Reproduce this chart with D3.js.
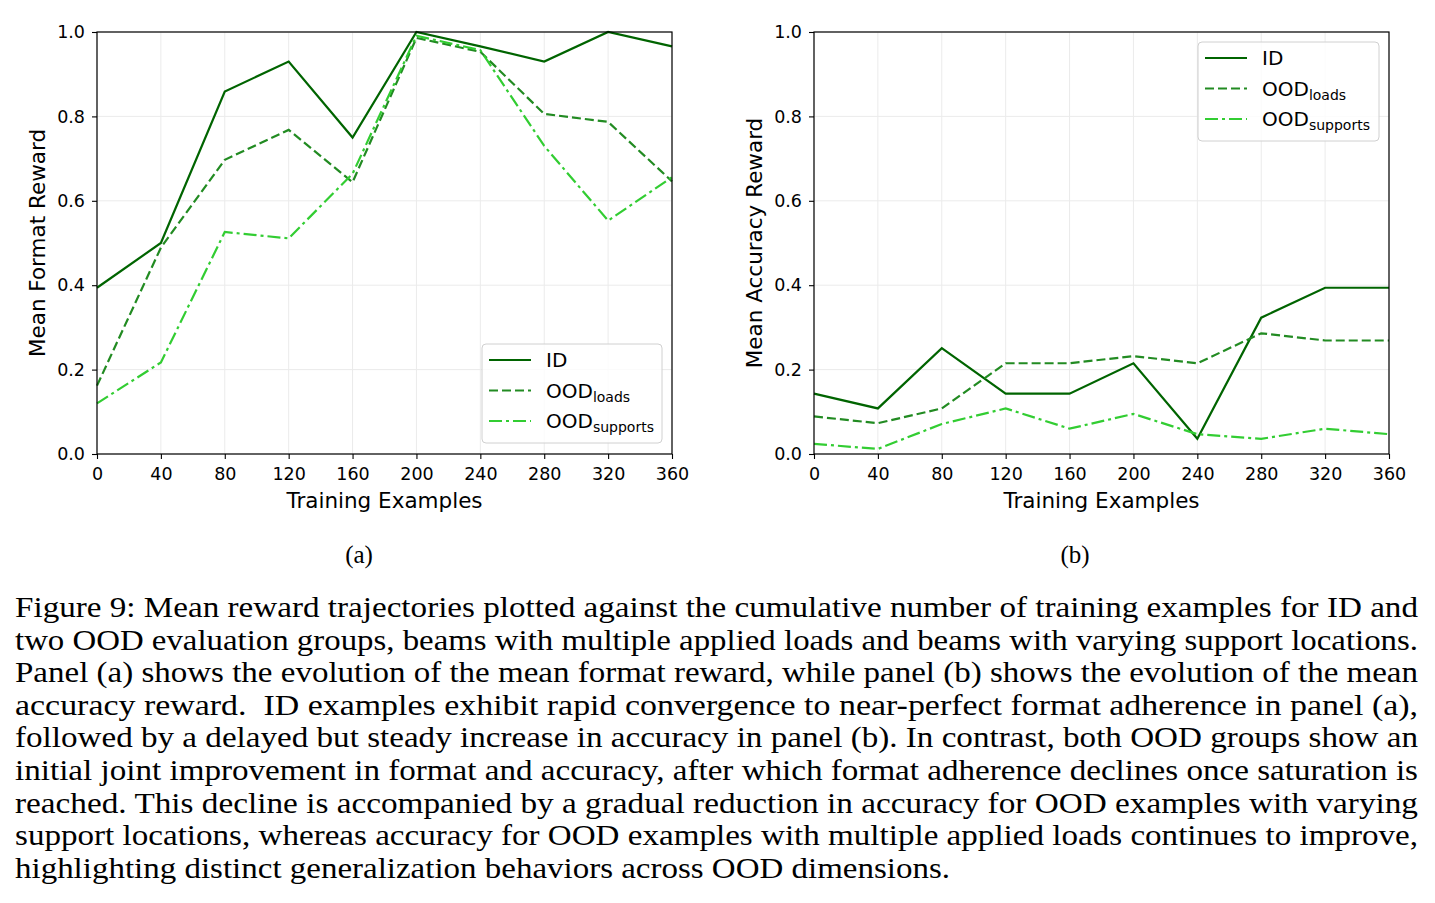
<!DOCTYPE html>
<html><head><meta charset="utf-8">
<script src="https://cdn.jsdelivr.net/npm/d3@7"></script>
<style>
html,body{margin:0;padding:0;background:#fff;}
svg{display:block;}
</style></head>
<body>
<svg id="fig" width="1435" height="903"></svg>
<script>
// ---------- data ----------
const trainingExamples = [0, 40, 80, 120, 160, 200, 240, 280, 320, 360];
const formatID        = [0.394, 0.500, 0.859, 0.930, 0.750, 1.000, 0.966, 0.930, 1.000, 0.966];
const formatOODloads  = [0.162, 0.489, 0.697, 0.768, 0.644, 0.986, 0.953, 0.806, 0.787, 0.646];
const formatOODsupports = [0.120, 0.217, 0.526, 0.511, 0.664, 0.991, 0.957, 0.730, 0.553, 0.656];
const accuracyID      = [0.143, 0.108, 0.251, 0.143, 0.143, 0.215, 0.036, 0.323, 0.394, 0.394];
const accuracyOODloads = [0.089, 0.073, 0.108, 0.215, 0.215, 0.232, 0.215, 0.286, 0.269, 0.269];
const accuracyOODsupports = [0.024, 0.012, 0.071, 0.108, 0.060, 0.095, 0.047, 0.036, 0.060, 0.047];
const xTicks = [0, 40, 80, 120, 160, 200, 240, 280, 320, 360];
const yTicks = [0.0, 0.2, 0.4, 0.6, 0.8, 1.0];
const legendLabels = [["ID", ""], ["OOD", "loads"], ["OOD", "supports"]];
const captionLines = [
 "Figure 9: Mean reward trajectories plotted against the cumulative number of training examples for ID and",
 "two OOD evaluation groups, beams with multiple applied loads and beams with varying support locations.",
 "Panel (a) shows the evolution of the mean format reward, while panel (b) shows the evolution of the mean",
 "accuracy reward.  ID examples exhibit rapid convergence to near-perfect format adherence in panel (a),",
 "followed by a delayed but steady increase in accuracy in panel (b). In contrast, both OOD groups show an",
 "initial joint improvement in format and accuracy, after which format adherence declines once saturation is",
 "reached. This decline is accompanied by a gradual reduction in accuracy for OOD examples with varying",
 "support locations, whereas accuracy for OOD examples with multiple applied loads continues to improve,",
 "highlighting distinct generalization behaviors across OOD dimensions."
];

// ---------- styles ----------
const colors = ["#006400", "#228b22", "#32cd32"];
const dashes = [null, "9,4", "13,4,3,4"];
const sansFont = "DejaVu Sans, sans-serif";
const serifFont = "Liberation Serif, serif";
const svg = d3.select("#fig");

function panel(opts) {
  const {left, right, top, bottom, series, ylabel, legend, sub} = opts;
  const g = svg.append("g");
  const x = d3.scaleLinear().domain([0, 360]).range([left, right]);
  const y = d3.scaleLinear().domain([0, 1]).range([bottom, top]);

  // grid
  g.append("g").selectAll("line").data(xTicks).join("line")
    .attr("x1", d => x(d)).attr("x2", d => x(d)).attr("y1", top).attr("y2", bottom)
    .attr("stroke", "#ebebeb").attr("stroke-width", 1);
  g.append("g").selectAll("line").data(yTicks).join("line")
    .attr("x1", left).attr("x2", right).attr("y1", d => y(d)).attr("y2", d => y(d))
    .attr("stroke", "#ebebeb").attr("stroke-width", 1);

  // lines
  const line = d3.line().x((d, i) => x(trainingExamples[i])).y(d => y(d));
  series.forEach((s, k) => {
    g.append("path").datum(s).attr("d", line)
      .attr("fill", "none").attr("stroke", colors[k]).attr("stroke-width", 2.2)
      .attr("stroke-dasharray", dashes[k]).attr("stroke-linejoin", "miter");
  });

  // frame
  g.append("rect").attr("x", left).attr("y", top).attr("width", right - left).attr("height", bottom - top)
    .attr("fill", "none").attr("stroke", "#000").attr("stroke-width", 1.2);

  // axes
  const xa = g.append("g").attr("transform", `translate(0,${bottom})`)
    .call(d3.axisBottom(x).tickValues(xTicks).tickSize(5).tickPadding(9).tickFormat(d3.format("d")));
  const ya = g.append("g").attr("transform", `translate(${left},0)`)
    .call(d3.axisLeft(y).tickValues(yTicks).tickSize(5).tickPadding(7).tickFormat(d3.format(".1f")));
  [xa, ya].forEach(a => {
    a.select(".domain").remove();
    a.selectAll("line").attr("stroke", "#000").attr("stroke-width", 1.1);
    a.selectAll("text").attr("font-family", sansFont).attr("font-size", 17.5).attr("fill", "#000");
  });

  g.append("text").attr("x", (left + right) / 2).attr("y", 508).attr("text-anchor", "middle")
    .attr("font-family", sansFont).attr("font-size", 21.5).text("Training Examples");
  g.append("text").attr("transform", `translate(${left - 52},${(top + bottom) / 2}) rotate(-90)`)
    .attr("text-anchor", "middle").attr("font-family", sansFont).attr("font-size", 21.5).text(ylabel);

  // legend
  const lg = g.append("g");
  lg.append("rect").attr("x", legend.x).attr("y", legend.y).attr("width", legend.w).attr("height", legend.h)
    .attr("rx", 4).attr("fill", "#fff").attr("fill-opacity", 0.8).attr("stroke", "#d0d0d0").attr("stroke-width", 1);
  legendLabels.forEach((lab, k) => {
    const cy = legend.y + 16 + k * 30.5;
    lg.append("line").attr("x1", legend.x + 7).attr("x2", legend.x + 49).attr("y1", cy).attr("y2", cy)
      .attr("stroke", colors[k]).attr("stroke-width", 2.2).attr("stroke-dasharray", dashes[k]);
    const t = lg.append("text").attr("x", legend.x + 64).attr("y", cy + 7)
      .attr("font-family", sansFont).attr("font-size", 20).attr("fill", "#000");
    t.append("tspan").text(lab[0]);
    if (lab[1]) t.append("tspan").attr("dy", 4).attr("font-size", 14).text(lab[1]);
  });

  svg.append("text").attr("x", sub.x).attr("y", 563).attr("text-anchor", "middle")
    .attr("font-family", serifFont).attr("font-size", 25).text(sub.t);
}

panel({left: 97, right: 672, top: 32, bottom: 454,
  series: [formatID, formatOODloads, formatOODsupports],
  ylabel: "Mean Format Reward",
  legend: {x: 482, y: 344, w: 180, h: 99}, sub: {x: 359, t: "(a)"}});
panel({left: 814, right: 1389, top: 32, bottom: 454,
  series: [accuracyID, accuracyOODloads, accuracyOODsupports],
  ylabel: "Mean Accuracy Reward",
  legend: {x: 1198, y: 42, w: 181, h: 99}, sub: {x: 1075, t: "(b)"}});

// caption
const cap = svg.append("g");
captionLines.forEach((l, i) => {
  const last = i === captionLines.length - 1;
  cap.append("text").attr("x", 15).attr("y", 617 + i * 32.6)
    .attr("font-family", serifFont).attr("font-size", 29).attr("fill", "#000")
    .attr("xml:space", "preserve").text(l)
    .attr("textLength", last ? 935 : 1403).attr("lengthAdjust", "spacingAndGlyphs");
});
</script>
</body></html>
